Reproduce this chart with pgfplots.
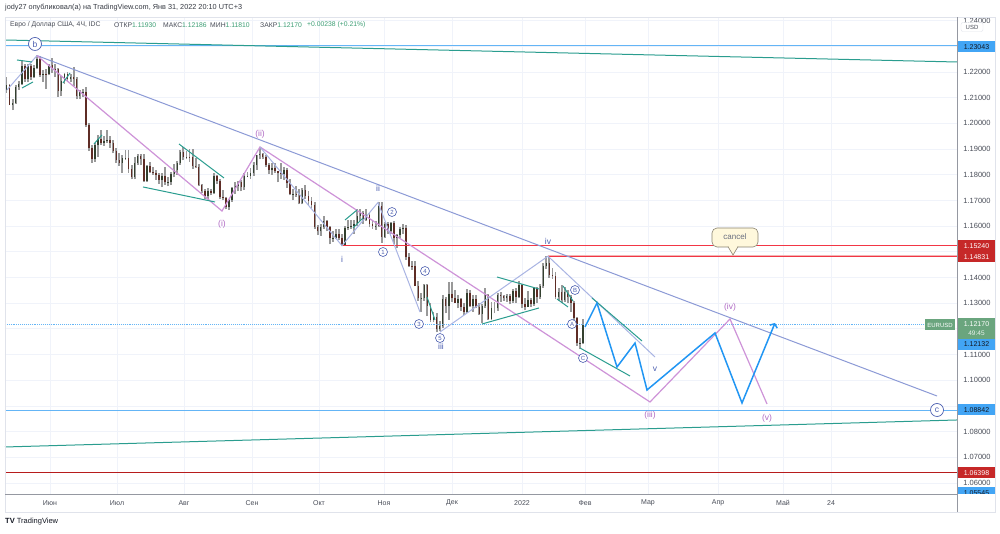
\documentclass[border=0pt]{standalone}
\usepackage{pgfplots}
\pgfplotsset{compat=1.18}
\usepackage{pgfplotstable}
\usepackage{fontspec}
\setmainfont{Liberation Sans}
\usetikzlibrary{arrows.meta}

\definecolor{gridc}{HTML}{F0F3FA}
\definecolor{tickc}{HTML}{4A4E59}
\definecolor{txt}{HTML}{131722}
\definecolor{tealc}{HTML}{2A9D8F}
\definecolor{wavel}{HTML}{A9B4E3}
\definecolor{trendc}{HTML}{8C9AD6}
\definecolor{pinkc}{HTML}{CE93D8}
\definecolor{violc}{HTML}{B06AC4}
\definecolor{projc}{HTML}{2196F3}
\definecolor{hlc}{HTML}{64B5F6}
\definecolor{boxb}{HTML}{42A5F5}
\definecolor{tvred}{HTML}{F23645}
\definecolor{boxr}{HTML}{C62828}
\definecolor{salm}{HTML}{F4B4B4}
\definecolor{dred}{HTML}{B71C1C}
\definecolor{boxg}{HTML}{6AA57E}
\definecolor{wv}{HTML}{4C5FB0}
\definecolor{upc}{HTML}{33402F}
\definecolor{dnc}{HTML}{5E2C25}
\definecolor{wickc}{HTML}{999999}
\definecolor{valc}{HTML}{3C9E74}
\definecolor{callf}{HTML}{FFF8DC}
\definecolor{callb}{HTML}{8A8370}
\definecolor{callt}{HTML}{6A6F80}
\definecolor{framec}{HTML}{E0E3EB}
\definecolor{axc}{HTML}{9598A1}

% EURUSD 4H chart, one candle per trading day (d = trading day from 11 May 2021)
\pgfplotstableread{
d o h l c
0 1.2130 1.2182 1.2120 1.2149
1 1.2149 1.2155 1.2070 1.2072
2 1.2072 1.2094 1.2052 1.2080
3 1.2080 1.2150 1.2077 1.2143
4 1.2143 1.2165 1.2130 1.2155
5 1.2155 1.2245 1.2150 1.2223
6 1.2223 1.2230 1.2162 1.2173
7 1.2173 1.2230 1.2160 1.2225
8 1.2225 1.2233 1.2170 1.2181
9 1.2181 1.2226 1.2175 1.2214
10 1.2214 1.2266 1.2210 1.2250
11 1.2250 1.2262 1.2180 1.2190
12 1.2190 1.2207 1.2162 1.2194
13 1.2194 1.2210 1.2133 1.2193
14 1.2193 1.2233 1.2187 1.2227
15 1.2227 1.2254 1.2197 1.2213
16 1.2213 1.2230 1.2180 1.2212
17 1.2212 1.2216 1.2103 1.2127
18 1.2127 1.2185 1.2105 1.2166
19 1.2166 1.2196 1.2155 1.2192
20 1.2192 1.2200 1.2160 1.2172
21 1.2172 1.2194 1.2162 1.2180
22 1.2180 1.2218 1.2144 1.2174
23 1.2174 1.2180 1.2093 1.2107
24 1.2107 1.2130 1.2094 1.2121
25 1.2121 1.2135 1.2104 1.2124
26 1.2124 1.2140 1.1985 1.1995
27 1.1995 1.2002 1.1892 1.1906
28 1.1906 1.1914 1.1847 1.1863
29 1.1863 1.1924 1.1850 1.1916
30 1.1916 1.1955 1.1871 1.1941
31 1.1941 1.1975 1.1915 1.1925
32 1.1925 1.1950 1.1912 1.1930
33 1.1930 1.1975 1.1925 1.1937
34 1.1937 1.1950 1.1906 1.1925
35 1.1925 1.1935 1.1883 1.1894
36 1.1894 1.1905 1.1847 1.1856
37 1.1856 1.1885 1.1835 1.1847
38 1.1847 1.1875 1.1807 1.1865
39 1.1865 1.1895 1.1857 1.1866
40 1.1866 1.1895 1.1807 1.1822
41 1.1822 1.1837 1.1782 1.1792
42 1.1792 1.1868 1.1782 1.1846
43 1.1846 1.1880 1.1838 1.1874
44 1.1874 1.1880 1.1836 1.1860
45 1.1860 1.1880 1.1772 1.1776
46 1.1776 1.1838 1.1772 1.1834
47 1.1834 1.1850 1.1806 1.1812
48 1.1812 1.1830 1.1800 1.1806
49 1.1806 1.1820 1.1780 1.1800
50 1.1800 1.1805 1.1765 1.1780
51 1.1780 1.1805 1.1752 1.1795
52 1.1795 1.1830 1.1760 1.1770
53 1.1770 1.1790 1.1755 1.1771
54 1.1771 1.1810 1.1760 1.1802
55 1.1802 1.1840 1.1790 1.1817
56 1.1817 1.1855 1.1800 1.1844
57 1.1844 1.1898 1.1838 1.1887
58 1.1887 1.1909 1.1856 1.1869
59 1.1869 1.1892 1.1860 1.1870
60 1.1870 1.1900 1.1850 1.1868
61 1.1868 1.1900 1.1822 1.1835
62 1.1835 1.1865 1.1825 1.1832
63 1.1832 1.1840 1.1755 1.1761
64 1.1761 1.1765 1.1730 1.1738
65 1.1738 1.1745 1.1705 1.1719
66 1.1719 1.1750 1.1705 1.1738
67 1.1738 1.1745 1.1720 1.1730
68 1.1730 1.1805 1.1724 1.1796
69 1.1796 1.1800 1.1765 1.1777
70 1.1777 1.1785 1.1705 1.1712
71 1.1712 1.1740 1.1700 1.1711
72 1.1711 1.1715 1.1665 1.1675
73 1.1675 1.1705 1.1664 1.1700
74 1.1700 1.1752 1.1695 1.1749
75 1.1749 1.1770 1.1725 1.1755
76 1.1755 1.1775 1.1735 1.1772
77 1.1772 1.1780 1.1735 1.1751
78 1.1751 1.1805 1.1740 1.1795
79 1.1795 1.1810 1.1790 1.1797
80 1.1797 1.1825 1.1785 1.1808
81 1.1808 1.1850 1.1795 1.1837
82 1.1837 1.1875 1.1820 1.1875
83 1.1875 1.1909 1.1860 1.1880
84 1.1880 1.1885 1.1860 1.1869
85 1.1869 1.1875 1.1830 1.1838
86 1.1838 1.1845 1.1802 1.1818
87 1.1818 1.1845 1.1800 1.1825
88 1.1825 1.1845 1.1805 1.1813
89 1.1813 1.1815 1.1770 1.1808
90 1.1808 1.1845 1.1785 1.1804
91 1.1804 1.1830 1.1780 1.1817
92 1.1817 1.1825 1.1750 1.1766
93 1.1766 1.1785 1.1720 1.1725
94 1.1725 1.1745 1.1700 1.1727
95 1.1727 1.1755 1.1715 1.1724
96 1.1724 1.1745 1.1685 1.1689
97 1.1689 1.1750 1.1685 1.1740
98 1.1740 1.1760 1.1705 1.1718
99 1.1718 1.1735 1.1680 1.1698
100 1.1698 1.1715 1.1670 1.1684
101 1.1684 1.1695 1.1590 1.1596
102 1.1596 1.1605 1.1565 1.1580
103 1.1580 1.1610 1.1563 1.1596
104 1.1596 1.1640 1.1590 1.1621
105 1.1621 1.1625 1.1580 1.1597
106 1.1597 1.1600 1.1529 1.1553
107 1.1553 1.1580 1.1540 1.1555
108 1.1555 1.1590 1.1550 1.1571
109 1.1571 1.1590 1.1545 1.1552
110 1.1552 1.1570 1.1524 1.1528
111 1.1528 1.1600 1.1525 1.1594
112 1.1594 1.1625 1.1585 1.1596
113 1.1596 1.1625 1.1590 1.1601
114 1.1601 1.1625 1.1570 1.1608
115 1.1608 1.1668 1.1600 1.1640
116 1.1640 1.1665 1.1620 1.1651
117 1.1651 1.1660 1.1610 1.1623
118 1.1623 1.1665 1.1620 1.1643
119 1.1643 1.1650 1.1595 1.1608
120 1.1608 1.1625 1.1590 1.1600
121 1.1600 1.1620 1.1585 1.1601
122 1.1601 1.1692 1.1595 1.1680
123 1.1680 1.1692 1.1535 1.1558
124 1.1558 1.1616 1.1555 1.1608
125 1.1608 1.1615 1.1570 1.1580
126 1.1580 1.1616 1.1570 1.1612
127 1.1612 1.1620 1.1530 1.1555
128 1.1555 1.1570 1.1513 1.1567
129 1.1567 1.1595 1.1555 1.1588
130 1.1588 1.1609 1.1570 1.1594
131 1.1594 1.1605 1.1470 1.1478
132 1.1478 1.1495 1.1440 1.1446
133 1.1446 1.1465 1.1430 1.1444
134 1.1444 1.1465 1.1365 1.1368
135 1.1368 1.1385 1.1310 1.1319
136 1.1319 1.1340 1.1265 1.1320
137 1.1320 1.1375 1.1310 1.1370
138 1.1370 1.1375 1.1250 1.1290
139 1.1290 1.1300 1.1226 1.1236
140 1.1236 1.1265 1.1225 1.1246
141 1.1246 1.1260 1.1186 1.1198
142 1.1198 1.1230 1.1190 1.1210
143 1.1210 1.1330 1.1205 1.1318
144 1.1318 1.1325 1.1260 1.1290
145 1.1290 1.1383 1.1235 1.1337
146 1.1337 1.1382 1.1305 1.1320
147 1.1320 1.1352 1.1300 1.1302
148 1.1302 1.1330 1.1280 1.1315
149 1.1315 1.1320 1.1270 1.1285
150 1.1285 1.1300 1.1255 1.1266
151 1.1266 1.1355 1.1260 1.1340
152 1.1340 1.1350 1.1285 1.1290
153 1.1290 1.1330 1.1265 1.1316
154 1.1316 1.1330 1.1280 1.1286
155 1.1286 1.1300 1.1255 1.1258
156 1.1258 1.1295 1.1222 1.1290
157 1.1290 1.1360 1.1280 1.1330
158 1.1330 1.1335 1.1235 1.1238
159 1.1238 1.1305 1.1235 1.1280
160 1.1280 1.1305 1.1260 1.1280
161 1.1280 1.1340 1.1270 1.1330
162 1.1330 1.1345 1.1305 1.1328
163 1.1328 1.1330 1.1310 1.1320
164 1.1320 1.1335 1.1305 1.1327
165 1.1327 1.1335 1.1295 1.1310
166 1.1310 1.1355 1.1300 1.1349
167 1.1349 1.1360 1.1300 1.1325
168 1.1325 1.1385 1.1320 1.1370
169 1.1370 1.1375 1.1280 1.1298
170 1.1298 1.1322 1.1272 1.1287
171 1.1287 1.1346 1.1285 1.1312
172 1.1312 1.1320 1.1285 1.1297
173 1.1297 1.1364 1.1290 1.1359
174 1.1359 1.1363 1.1300 1.1326
175 1.1326 1.1375 1.1315 1.1367
176 1.1367 1.1455 1.1360 1.1443
177 1.1443 1.1482 1.1435 1.1455
178 1.1455 1.1483 1.1400 1.1410
179 1.1410 1.1436 1.1395 1.1407
180 1.1407 1.1420 1.1315 1.1324
181 1.1324 1.1360 1.1310 1.1343
182 1.1343 1.1370 1.1300 1.1312
183 1.1312 1.1363 1.1305 1.1344
184 1.1344 1.1350 1.1300 1.1325
185 1.1325 1.1330 1.1265 1.1301
186 1.1301 1.1310 1.1235 1.1242
187 1.1242 1.1245 1.1135 1.1144
188 1.1144 1.1166 1.1121 1.1146
189 1.1146 1.1240 1.1140 1.1217
}\ohlc

\begin{document}
\begin{tikzpicture}[x=1pt,y=1pt]
\path[use as bounding box, fill=white] (0,0) rectangle (1000,534);

\begin{axis}[
  at={(5pt,40pt)}, anchor=south west,
  scale only axis, width=952pt, height=476pt,
  xmin=5, xmax=957, ymin=1.05573, ymax=1.24102,
  axis line style={draw=none},
  major tick length=0pt,
  xtick={50,117,184,252,319,384,452,522,585,648,718,783,831},
  xticklabels={Июн,Июл,Авг,Сен,Окт,Ноя,Дек,2022,Фев,Мар,Апр,Май,24},
  ytick={1.06,1.07,1.08,1.09,1.10,1.11,1.12,1.13,1.14,1.15,1.16,1.17,1.18,1.19,1.20,1.21,1.22,1.23,1.24},
  yticklabels={1.06000,1.07000,1.08000,,1.10000,1.11000,,1.13000,1.14000,,1.16000,1.17000,1.18000,1.19000,1.20000,1.21000,1.22000,,1.24000},
  yticklabel pos=right,
  scaled y ticks=false,
  yticklabel style={anchor=center, xshift=20pt, font=\fontsize{7.5}{8}\selectfont, text=tickc},
  xticklabel style={anchor=center, yshift=-9pt, font=\fontsize{7}{8}\selectfont, text=tickc},
  grid=major, major grid style={draw=gridc, line width=0.8pt},
  clip mode=individual,
]
% candles
\addplot[draw=none, forget plot, error bars/.cd, y dir=plus, y explicit, error mark=none,
  error bar style={draw=wickc, line width=1.9pt, line cap=butt, solid}]
  table[x expr=6.5+3.05*\thisrow{d}, y=l, y error plus expr={\thisrow{h}-\thisrow{l}}] {\ohlc};
\addplot[draw=none, forget plot, error bars/.cd, y dir=plus, y explicit, error mark=none,
  error bar style={draw=upc, line width=1.5pt, line cap=butt, solid}]
  table[x expr=6.5+3.05*\thisrow{d}, y=o, y error plus expr={max(\thisrow{c}-\thisrow{o},0)}] {\ohlc};
\addplot[draw=none, forget plot, error bars/.cd, y dir=plus, y explicit, error mark=none,
  error bar style={draw=dnc, line width=1.5pt, line cap=butt, solid}]
  table[x expr=6.5+3.05*\thisrow{d}, y=c, y error plus expr={max(\thisrow{o}-\thisrow{c},0)}] {\ohlc};

% horizontal levels
\addplot[draw=hlc, line width=0.9pt] coordinates {(5,1.23043) (957,1.23043)};
\addplot[draw=salm, line width=2pt] coordinates {(548,1.14831) (957,1.14831)};
\addplot[draw=tvred, line width=0.5pt] coordinates {(548,1.14831) (957,1.14831)};
\addplot[draw=hlc, line width=0.9pt, densely dotted] coordinates {(5,1.1217) (925,1.1217)};
\addplot[draw=hlc, line width=0.9pt] coordinates {(5,1.08842) (957,1.08842)};
\addplot[draw=dred, line width=0.7pt] coordinates {(5,1.06398) (957,1.06398)};
\addplot[color=tvred, line width=1.2pt] coordinates {(342,1.1524) (957,1.1524)};

% long trend lines
\addplot[draw=tealc, line width=1pt] coordinates {(5,1.23246) (957,1.22389)};
\addplot[draw=tealc, line width=1pt] coordinates {(5,1.07403) (957,1.08454)};
\addplot[draw=trendc, line width=1pt] coordinates {(37,1.2264) (937,1.09388)};

% wave paths
\addplot[draw=pinkc, line width=1.2pt] coordinates {(37,1.2264) (222,1.16589) (260,1.19081) (650,1.09155) (730,1.12385) (767,1.09077)};
\addplot[draw=wavel, line width=1pt] coordinates {(7,1.2130) (37,1.2264)};
\addplot[draw=wavel, line width=1pt] coordinates {(260,1.19081) (342,1.1524) (378,1.1692) (420,1.12658)};
\addplot[draw=wavel, line width=1pt] coordinates {(440,1.11879) (548,1.1483) (655,1.10906)};

% small wedges
\addplot[draw=tealc, line width=1pt] coordinates {(17,1.22467) (32,1.22389)};
\addplot[draw=tealc, line width=1pt] coordinates {(22,1.21377) (33,1.21611)};
\addplot[draw=tealc, line width=1pt] coordinates {(63,1.21572) (70,1.21961)};
\addplot[draw=tealc, line width=1pt] coordinates {(94,1.1920) (102,1.1955)};
\addplot[draw=tealc, line width=1pt] coordinates {(179,1.19197) (224,1.17874)};
\addplot[draw=tealc, line width=1pt] coordinates {(143,1.17524) (215,1.16940)};
\addplot[draw=tealc, line width=1pt] coordinates {(345,1.16239) (357,1.16628)};
\addplot[draw=tealc, line width=1pt] coordinates {(353,1.15928) (363,1.16317)};
\addplot[draw=tealc, line width=1pt] coordinates {(427,1.13242) (435,1.12347)};
\addplot[draw=tealc, line width=1pt] coordinates {(497,1.14020) (539,1.13553)};
\addplot[draw=tealc, line width=1pt] coordinates {(482,1.12191) (539,1.12814)};
\addplot[draw=tealc, line width=1pt] coordinates {(557,1.13164) (568,1.12853)};
\addplot[draw=tealc, line width=1pt] coordinates {(563,1.13670) (573,1.13086)};
\addplot[draw=tealc, line width=1pt] coordinates {(580,1.11256) (630,1.10167)};
\addplot[draw=tealc, line width=1pt] coordinates {(592,1.13203) (642,1.11529)};

% projection
\addplot[draw=projc, line width=1.5pt, -{Straight Barb[length=3pt,width=8pt]}] coordinates {(585,1.12074) (597,1.13008) (617,1.10517) (635,1.11451) (647,1.09622) (715,1.11840) (742,1.09116) (775,1.12230)};
\end{axis}

% frame and scales
\draw[framec, line width=0.8pt] (5,22) rectangle (995,517);
\draw[axc, line width=0.9pt] (5,40) -- (957,40);
\draw[axc, line width=0.9pt] (957,22) -- (957,517);

% labels on chart
\tikzset{
  wl/.style={text=wv, font=\fontsize{8.5}{9}\selectfont, inner sep=0pt},
  vl/.style={text=violc, font=\fontsize{8.5}{9}\selectfont, inner sep=0pt},
  cn/.style={circle, draw=wv, line width=0.6pt, inner sep=0pt, minimum size=9pt, text=wv, font=\fontsize{6}{7}\selectfont},
  cb/.style={circle, draw=wv, line width=0.7pt, inner sep=0pt, minimum size=13pt, text=wv, font=\fontsize{8.5}{9}\selectfont},
  rb/.style={minimum width=37pt, minimum height=11pt, inner sep=0pt, font=\fontsize{7}{8}\selectfont},
}
\node[cb, fill=white] at (35,490) {b};
\node[cb, fill=white] at (937,124) {c};
\node[vl] at (222,310) {(i)};
\node[vl] at (260,400) {(ii)};
\node[vl] at (650,119) {(iii)};
\node[vl] at (730,227) {(iv)};
\node[vl] at (767,116) {(v)};
\node[wl] at (342,275) {i};
\node[wl] at (378,346) {ii};
\node[wl] at (441,188) {iii};
\node[wl] at (548,293) {iv};
\node[wl] at (655,165) {v};
\node[cn, fill=white] at (383,282) {1};
\node[cn, fill=white] at (392,322) {2};
\node[cn, fill=white] at (419,210) {3};
\node[cn, fill=white] at (425,263) {4};
\node[cn, fill=white] at (440,196) {5};
\node[cn, fill=white] at (572,210) {A};
\node[cn, fill=white] at (575,244) {B};
\node[cn, fill=white] at (583,176) {C};

% cancel callout
\draw[callb, fill=callf, rounded corners=5pt, line width=0.6pt] (712,306) rectangle (758,287);
\filldraw[fill=callf, draw=callb, line width=0.6pt] (728,287.3) -- (733,279) -- (738,287.3);
\fill[callf] (728.7,286.5) rectangle (737.3,288.2);
\node[text=callt, font=\fontsize{8}{9}\selectfont] at (735,297) {cancel};

% price scale labels
\node[rb, fill=boxb, text=txt] at (976.5,487) {1.23043};
\node[rb, fill=boxr, text=white] at (976.5,288) {1.15240};
\node[rb, fill=boxr, text=white] at (976.5,277) {1.14831};
\node[minimum width=37pt, minimum height=22pt, inner sep=0pt, fill=boxg] at (976.5,205) {};
\node[text=white, font=\fontsize{7}{8}\selectfont] at (976.5,210) {1.12170};
\node[text=white!85!boxg, font=\fontsize{6.5}{7}\selectfont] at (976.5,201) {49:45};
\node[rb, fill=boxb, text=txt] at (976.5,189.5) {1.12132};
\node[rb, fill=boxb, text=txt] at (976.5,124) {1.08842};
\node[rb, fill=boxr, text=white] at (976.5,61) {1.06398};
\begin{scope}
  \clip (958,40) rectangle (996,47);
  \node[rb, fill=boxb, text=txt] at (976.5,41) {1.05545};
\end{scope}
\node[minimum width=30pt, minimum height=11pt, inner sep=0pt, fill=boxg, text=white, font=\fontsize{6}{7}\selectfont] at (940,209) {EURUSD};
\node[draw=framec, fill=white, rounded corners=2pt, minimum width=22pt, minimum height=9pt, inner sep=0pt, text=tickc, font=\fontsize{6}{7}\selectfont] at (972,507) {USD};

% header and legend
\node[anchor=west, inner sep=0pt, text=txt!85, font=\fontsize{7.3}{8}\selectfont] at (5,526) {jody27 опубликовал(а) на TradingView.com, Янв 31, 2022 20:10 UTC+3};
\node[anchor=west, inner sep=0pt, text=tickc, font=\fontsize{6.8}{8}\selectfont] at (10,509) {Евро / Доллар США, 4Ч, IDC};
\node[anchor=west, inner sep=0pt, font=\fontsize{6.8}{8}\selectfont] at (114,509) {\color{tickc}ОТКР\color{valc}1.11930};
\node[anchor=west, inner sep=0pt, font=\fontsize{6.8}{8}\selectfont] at (163,509) {\color{tickc}МАКС\color{valc}1.12186};
\node[anchor=west, inner sep=0pt, font=\fontsize{6.8}{8}\selectfont] at (210,509) {\color{tickc}МИН\color{valc}1.11810};
\node[anchor=west, inner sep=0pt, font=\fontsize{6.8}{8}\selectfont] at (260,509) {\color{tickc}ЗАКР\color{valc}1.12170};
\node[anchor=west, inner sep=0pt, text=valc, font=\fontsize{6.8}{8}\selectfont] at (307,509) {+0.00238 (+0.21\%)};

% logo
\node[anchor=west, inner sep=0pt, text=txt, font=\fontsize{7.5}{8}\selectfont] at (5,12) {\textbf{TV} TradingView};
\end{tikzpicture}
\end{document}
